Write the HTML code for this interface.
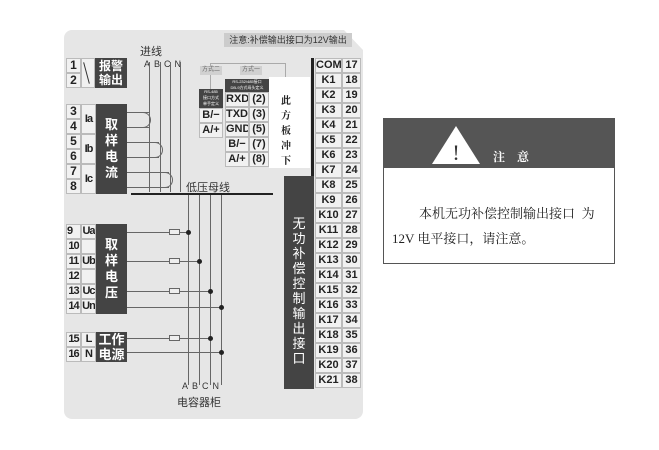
<!DOCTYPE html>
<html><head><meta charset="utf-8"><style>
*{margin:0;padding:0;box-sizing:border-box}
body{width:659px;height:450px;background:#fff;position:relative;overflow:hidden;font-family:"Liberation Sans","Noto Sans CJK SC",sans-serif}
.a{position:absolute}
.cell{position:absolute;background:#f1f1f1;border:1px solid #bbb;color:#222;font-size:12px;font-weight:bold;text-align:center;line-height:13px;white-space:nowrap;overflow:hidden}
.n{font-size:11px;letter-spacing:-1px}
.dk{position:absolute;background:#444;color:#fff;font-weight:bold;text-align:center}
.h{position:absolute;height:1px;background:#666}
.v{position:absolute;width:1px;background:#666}
.dot{position:absolute;width:5px;height:5px;border-radius:50%;background:#222}
.fuse{position:absolute;width:11px;height:6px;border:1px solid #666;background:#eee}
</style></head><body>
<div class="a" style="left:64px;top:30px;width:299px;height:389px;background:#e6e6e6;border-radius:8px;clip-path:polygon(0 0,280px 0,299px 20px,299px 389px,0 389px)"></div>

<div class="a" style="left:224px;top:33px;width:128px;height:14px;background:#ccc;font-size:9px;color:#333;line-height:14px;text-align:center">注意:补偿输出接口为12V输出</div>
<div class="a" style="left:140px;top:43px;font-size:11px;color:#333">进线</div>
<div class="a" style="left:144px;top:59px;font-size:9px;color:#333;letter-spacing:4px">ABCN</div>

<div class="cell" style="left:66px;top:58px;width:15px;height:15px">1</div>
<div class="cell" style="left:66px;top:73px;width:15px;height:15px">2</div>
<div class="cell" style="left:81px;top:58px;width:14px;height:30px"></div>
<div class="a" style="left:86px;top:62px;width:1px;height:22px;background:#333;transform:rotate(-15deg)"></div>
<div class="dk" style="left:95px;top:58px;width:32px;height:30px;font-size:12px;line-height:14px;padding-top:1px">报警<br>输出</div>

<div class="cell" style="left:66px;top:104px;width:15px;height:15px">3</div>
<div class="cell" style="left:66px;top:119px;width:15px;height:15px">4</div>
<div class="cell" style="left:66px;top:134px;width:15px;height:15px">5</div>
<div class="cell" style="left:66px;top:149px;width:15px;height:15px">6</div>
<div class="cell" style="left:66px;top:164px;width:15px;height:15px">7</div>
<div class="cell" style="left:66px;top:179px;width:15px;height:15px">8</div>
<div class="cell n" style="left:81px;top:104px;width:15px;height:30px;line-height:28px">Ia</div>
<div class="cell n" style="left:81px;top:134px;width:15px;height:30px;line-height:28px">Ib</div>
<div class="cell n" style="left:81px;top:164px;width:15px;height:30px;line-height:28px">Ic</div>
<div class="dk" style="left:96px;top:104px;width:31px;height:90px;font-size:13px;line-height:16px;padding-top:13px">取<br>样<br>电<br>流</div>

<div class="h" style="left:127px;top:112px;width:22px"></div><div class="h" style="left:127px;top:127px;width:22px"></div>
<div class="a" style="left:143px;top:112px;width:8px;height:16px;border:1px solid #666;border-left:none;border-radius:0 8px 8px 0"></div>
<div class="h" style="left:127px;top:142px;width:32px"></div><div class="h" style="left:127px;top:157px;width:32px"></div>
<div class="a" style="left:155px;top:142px;width:8px;height:16px;border:1px solid #666;border-left:none;border-radius:0 8px 8px 0"></div>
<div class="h" style="left:127px;top:172px;width:42px"></div><div class="h" style="left:127px;top:187px;width:42px"></div>
<div class="a" style="left:165px;top:172px;width:8px;height:16px;border:1px solid #666;border-left:none;border-radius:0 8px 8px 0"></div>

<div class="v" style="left:149px;top:62px;height:130px"></div>
<div class="v" style="left:160px;top:62px;height:130px"></div>
<div class="v" style="left:170px;top:62px;height:130px"></div>
<div class="v" style="left:180px;top:62px;height:130px"></div>
<div class="a" style="left:131px;top:193px;width:142px;height:2px;background:#222"></div>
<div class="a" style="left:186px;top:179px;font-size:11px;color:#333">低压母线</div>

<div class="v" style="left:188px;top:195px;height:190px"></div>
<div class="v" style="left:199px;top:195px;height:190px"></div>
<div class="v" style="left:210px;top:195px;height:190px"></div>
<div class="v" style="left:221px;top:195px;height:190px"></div>
<div class="a" style="left:182px;top:381px;font-size:9px;color:#333;letter-spacing:4px">ABCN</div>
<div class="a" style="left:177px;top:394px;font-size:11px;color:#333">电容器柜</div>

<div class="cell n" style="left:66px;top:224px;width:15px;height:15px;text-align:left">9</div>
<div class="cell n" style="left:66px;top:239px;width:15px;height:15px">10</div>
<div class="cell n" style="left:66px;top:254px;width:15px;height:15px">11</div>
<div class="cell n" style="left:66px;top:269px;width:15px;height:15px">12</div>
<div class="cell n" style="left:66px;top:284px;width:15px;height:15px">13</div>
<div class="cell n" style="left:66px;top:299px;width:15px;height:15px">14</div>
<div class="cell n" style="left:81px;top:224px;width:15px;height:15px">Ua</div>
<div class="cell" style="left:81px;top:239px;width:15px;height:15px"></div>
<div class="cell n" style="left:81px;top:254px;width:15px;height:15px">Ub</div>
<div class="cell" style="left:81px;top:269px;width:15px;height:15px"></div>
<div class="cell n" style="left:81px;top:284px;width:15px;height:15px">Uc</div>
<div class="cell n" style="left:81px;top:299px;width:15px;height:15px">Un</div>
<div class="dk" style="left:96px;top:224px;width:31px;height:90px;font-size:13px;line-height:16px;padding-top:13px">取<br>样<br>电<br>压</div>

<div class="h" style="left:127px;top:232px;width:62px"></div><div class="fuse" style="left:169px;top:229px"></div><div class="dot" style="left:186px;top:230px"></div>
<div class="h" style="left:127px;top:261px;width:73px"></div><div class="fuse" style="left:169px;top:258px"></div><div class="dot" style="left:197px;top:259px"></div>
<div class="h" style="left:127px;top:291px;width:84px"></div><div class="fuse" style="left:169px;top:288px"></div><div class="dot" style="left:208px;top:289px"></div>
<div class="h" style="left:127px;top:307px;width:95px"></div><div class="dot" style="left:219px;top:305px"></div>

<div class="cell n" style="left:66px;top:332px;width:15px;height:15px">15</div>
<div class="cell n" style="left:66px;top:347px;width:15px;height:15px">16</div>
<div class="cell n" style="left:81px;top:332px;width:15px;height:15px">L</div>
<div class="cell n" style="left:81px;top:347px;width:15px;height:15px">N</div>
<div class="dk" style="left:96px;top:332px;width:31px;height:30px;font-size:13px;line-height:15px">工作<br>电源</div>
<div class="h" style="left:127px;top:338px;width:84px"></div><div class="fuse" style="left:169px;top:335px"></div><div class="dot" style="left:208px;top:336px"></div>
<div class="h" style="left:127px;top:352px;width:95px"></div><div class="dot" style="left:219px;top:350px"></div>

<div class="a" style="left:210px;top:63px;width:76px;height:1px;background:#aaa"></div>
<div class="a" style="left:210px;top:63px;width:1px;height:26px;background:#aaa"></div>
<div class="a" style="left:285px;top:63px;width:1px;height:15px;background:#aaa"></div>
<div class="a" style="left:200px;top:66px;width:22px;height:9px;background:#d0d0d0;font-size:6px;color:#666;text-align:center;line-height:9px">方式二</div>
<div class="a" style="left:240px;top:66px;width:22px;height:9px;background:#d0d0d0;font-size:6px;color:#666;text-align:center;line-height:9px">方式一</div>
<div class="dk" style="left:199px;top:89px;width:24px;height:19px;font-size:4px;line-height:6px;font-weight:normal">RS-485<br>接口方式<br>单手定义</div>
<div class="cell" style="left:199px;top:108px;width:24px;height:15px;font-size:11px">B/−</div>
<div class="cell" style="left:199px;top:123px;width:24px;height:15px;font-size:11px">A/+</div>
<div class="dk" style="left:225px;top:79px;width:44px;height:13px;font-size:4px;line-height:6px;font-weight:normal">RS-232/485接口<br>DB-9方式母头定义</div>
<div class="cell" style="left:225px;top:92px;width:24px;height:15px;font-size:11px">RXD</div><div class="cell" style="left:249px;top:92px;width:20px;height:15px;font-size:11px">(2)</div>
<div class="cell" style="left:225px;top:107px;width:24px;height:15px;font-size:11px">TXD</div><div class="cell" style="left:249px;top:107px;width:20px;height:15px;font-size:11px">(3)</div>
<div class="cell" style="left:225px;top:122px;width:24px;height:15px;font-size:11px">GND</div><div class="cell" style="left:249px;top:122px;width:20px;height:15px;font-size:11px">(5)</div>
<div class="cell" style="left:225px;top:137px;width:24px;height:15px;font-size:11px">B/−</div><div class="cell" style="left:249px;top:137px;width:20px;height:15px;font-size:11px">(7)</div>
<div class="cell" style="left:225px;top:152px;width:24px;height:15px;font-size:11px">A/+</div><div class="cell" style="left:249px;top:152px;width:20px;height:15px;font-size:11px">(8)</div>
<div class="a" style="left:269px;top:77px;width:41px;height:91px;background:#fff"></div>
<div class="a" style="left:281px;top:92px;font-size:10px;line-height:15px;font-weight:bold;color:#222;font-family:'Noto Serif CJK SC',serif">此<br>方<br>板<br>冲<br>下</div>

<div class="a" style="left:311px;top:58px;width:3px;height:120px;background:#222"></div>
<div class="dk" style="left:284px;top:176px;width:30px;height:213px;font-size:13px;line-height:15px;padding-top:40px;font-weight:normal">无<br>功<br>补<br>偿<br>控<br>制<br>输<br>出<br>接<br>口</div>

<div id="k"></div>
<script>
var s='';var labs=['COM'];for(var i=1;i<=21;i++)labs.push('K'+i);
for(var i=0;i<22;i++){var y=58+i*15;
s+='<div class="cell" style="left:315px;top:'+y+'px;width:27px;height:15px;font-size:11px">'+labs[i]+'</div>';
s+='<div class="cell" style="left:342px;top:'+y+'px;width:19px;height:15px;font-size:11px">'+(17+i)+'</div>';}
document.getElementById('k').innerHTML=s;
</script>

<div class="a" style="left:383px;top:118px;width:232px;height:146px;border:1px solid #555;background:#fff"></div>
<div class="a" style="left:383px;top:118px;width:232px;height:50px;background:#555"></div>
<svg class="a" style="left:430px;top:124px" width="52" height="42"><polygon points="26,2 50,40 2,40" fill="#fff"/><text x="26" y="36" font-size="22" text-anchor="middle" fill="#333" font-family="Liberation Serif">!</text></svg>
<div class="a" style="left:493px;top:148px;color:#fff;font-size:12px;font-weight:bold;font-family:'Noto Serif CJK SC',serif;letter-spacing:12px">注意</div>
<div class="a" style="left:419px;top:203px;font-size:13px;color:#222;font-family:'Noto Serif CJK SC',serif">本机无功补偿控制输出接口&nbsp;&nbsp;为</div>
<div class="a" style="left:392px;top:228px;font-size:13px;color:#222;font-family:'Liberation Serif','Noto Serif CJK SC',serif">12V 电平接口，请注意。</div>
</body></html>
